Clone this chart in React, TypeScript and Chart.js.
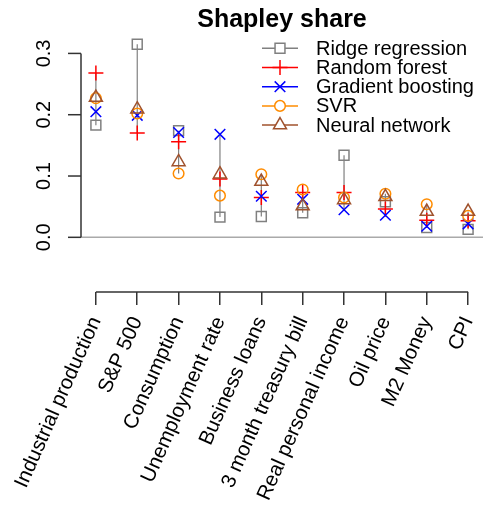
import React, { useEffect, useRef } from "react";
import { Chart, registerables } from "chart.js";
import { drawPoint } from "chart.js/helpers";

Chart.register(...registerables);

const chartTitle = "Shapley share";
const categories = [
  "Industrial production",
  "S&P 500",
  "Consumption",
  "Unemployment rate",
  "Business loans",
  "3 month treasury bill",
  "Real personal income",
  "Oil price",
  "M2 Money",
  "CPI",
];
const ridgeRegression = [0.183, 0.315, 0.174, 0.033, 0.034, 0.040, 0.134, 0.058, 0.016, 0.013];
const randomForest = [0.268, 0.170, 0.156, 0.095, 0.065, 0.073, 0.073, 0.046, 0.028, 0.027];
const gradientBoosting = [0.205, 0.199, 0.171, 0.168, 0.067, 0.062, 0.045, 0.036, 0.018, 0.022];
const svr = [0.227, 0.202, 0.104, 0.068, 0.103, 0.078, 0.065, 0.071, 0.054, 0.035];
const neuralNetwork = [0.228, 0.209, 0.123, 0.103, 0.091, 0.051, 0.061, 0.066, 0.042, 0.042];
const seriesNames = ["Ridge regression", "Random forest", "Gradient boosting", "SVR", "Neural network"];
const yTicks = [0, 0.1, 0.2, 0.3];

const seriesValues = [ridgeRegression, randomForest, gradientBoosting, svr, neuralNetwork];
const seriesColors = ["#808080", "#FF0000", "#0000FF", "#FF8C00", "#A0522D"];
const seriesStyles: any[] = ["rect", "cross", "crossRot", "circle", "triangle"];
const seriesRadius = [7, 7.5, 7.5, 5.3, 7.5];

const FONT = "'Liberation Sans', Arial, Helvetica, sans-serif";

const decor = {
  id: "decor",
  beforeDatasetsDraw(chart: any) {
    const { ctx, chartArea, scales } = chart;
    const x = scales.x;
    const y = scales.y;
    ctx.save();
    ctx.strokeStyle = "#aaaaaa";
    ctx.lineWidth = 1.5;
    const y0 = y.getPixelForValue(0);
    ctx.beginPath();
    ctx.moveTo(chartArea.left, y0);
    ctx.lineTo(chartArea.right, y0);
    ctx.stroke();
    ctx.strokeStyle = "#808080";
    ctx.lineWidth = 1.2;
    categories.forEach((_, i) => {
      const vals = seriesValues.map((s) => s[i]);
      const mn = Math.min(...vals);
      const mx = Math.max(...vals);
      const px = x.getPixelForValue(i + 1);
      ctx.beginPath();
      ctx.moveTo(px, y.getPixelForValue(mx));
      ctx.lineTo(px, y.getPixelForValue(mn));
      ctx.stroke();
    });
    ctx.restore();
  },
  afterDraw(chart: any) {
    const { ctx, chartArea, scales } = chart;
    const x = scales.x;
    const y = scales.y;
    ctx.save();
    ctx.strokeStyle = "#333333";
    ctx.lineWidth = 1.5;
    const ax = chartArea.left;
    ctx.beginPath();
    ctx.moveTo(ax, y.getPixelForValue(yTicks[0]));
    ctx.lineTo(ax, y.getPixelForValue(yTicks[yTicks.length - 1]));
    ctx.stroke();
    ctx.fillStyle = "#000";
    ctx.font = `20px ${FONT}`;
    yTicks.forEach((t) => {
      const py = y.getPixelForValue(t);
      ctx.beginPath();
      ctx.moveTo(ax, py);
      ctx.lineTo(ax - 13, py);
      ctx.stroke();
      ctx.save();
      ctx.translate(50, py);
      ctx.rotate(-Math.PI / 2);
      ctx.textAlign = "center";
      ctx.textBaseline = "alphabetic";
      ctx.fillText(t.toFixed(1), 0, 0);
      ctx.restore();
    });
    const by = chartArea.bottom;
    ctx.beginPath();
    ctx.moveTo(x.getPixelForValue(1), by);
    ctx.lineTo(x.getPixelForValue(categories.length), by);
    ctx.stroke();
    ctx.font = `bold 25px ${FONT}`;
    ctx.textAlign = "center";
    ctx.textBaseline = "alphabetic";
    ctx.fillText(chartTitle, (chartArea.left + chartArea.right) / 2, 27);
    ctx.font = `20px ${FONT}`;
    ctx.textAlign = "left";
    ctx.textBaseline = "middle";
    seriesNames.forEach((name, k) => {
      const ry = 48.3 + k * 19.2;
      ctx.strokeStyle = seriesColors[k];
      ctx.lineWidth = 1.5;
      ctx.beginPath();
      ctx.moveTo(262, ry);
      ctx.lineTo(298, ry);
      ctx.stroke();
      ctx.fillStyle = "#fff";
      drawPoint(ctx, { pointStyle: seriesStyles[k], radius: seriesRadius[k], rotation: 0, borderWidth: 1.5 } as any, 280, ry);
      ctx.fillStyle = "#000";
      ctx.fillText(name, 316, ry + 1);
    });
    ctx.restore();
  },
};

export default function App() {
  const ref = useRef<HTMLCanvasElement>(null);
  useEffect(() => {
    if (!ref.current) return;
    const chart = new Chart(ref.current, {
      type: "scatter",
      data: {
        datasets: seriesNames.map((name, k) => ({
          label: name,
          data: seriesValues[k].map((v, i) => ({ x: i + 1, y: v })),
          pointStyle: seriesStyles[k],
          pointRadius: seriesRadius[k],
          pointHoverRadius: seriesRadius[k],
          borderColor: seriesColors[k],
          backgroundColor: "rgba(0,0,0,0)",
          pointBorderWidth: 1.5,
          showLine: false,
          order: 4 - k,
        })),
      },
      options: {
        animation: false,
        responsive: false,
        events: [],
        layout: { autoPadding: false, padding: { left: 81, top: 30, right: 0, bottom: 0 } },
        plugins: {
          legend: { display: false },
          title: { display: false },
          tooltip: { enabled: false },
        },
        scales: {
          x: {
            type: "linear",
            min: 0.64,
            max: 10.36,
            afterBuildTicks: (s: any) => {
              s.ticks = categories.map((_, i) => ({ value: i + 1 }));
            },
            afterFit: (s: any) => {
              s.height = 214;
              s.paddingLeft = 0;
              s.paddingRight = 0;
            },
            border: { display: false },
            grid: {
              drawOnChartArea: false,
              drawTicks: true,
              tickLength: 13,
              color: "#333333",
              lineWidth: 1.5,
            },
            ticks: {
              autoSkip: false,
              minRotation: 66,
              maxRotation: 66,
              color: "#000",
              font: { family: FONT, size: 20.5 },
              padding: 8,
              callback: (v: any) => categories[Math.round(v) - 1] ?? "",
            },
          },
          y: { display: false, min: -0.0892, max: 0.3382 },
        },
      },
      plugins: [decor],
    } as any);
    return () => chart.destroy();
  }, []);
  return (
    <div style={{ position: "absolute", left: 0, top: 0, width: 483, height: 506, background: "#fff" }}>
      <canvas ref={ref} width={483} height={506} style={{ display: "block" }} />
    </div>
  );
}
